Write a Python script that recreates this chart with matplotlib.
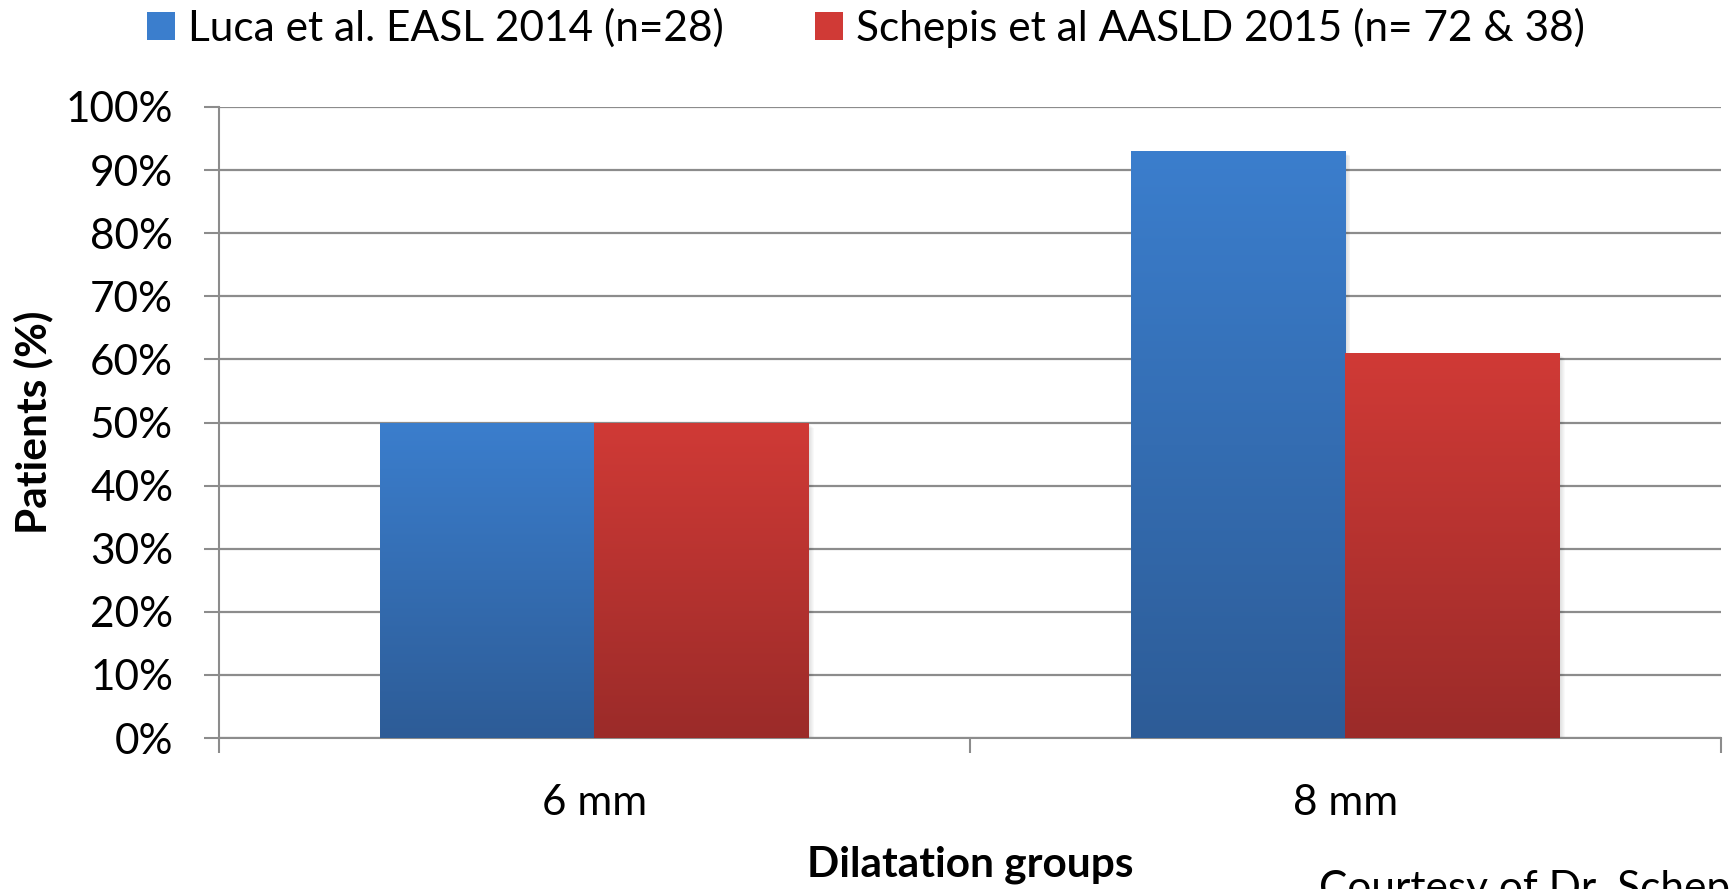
import numpy as np
import matplotlib
matplotlib.use("Agg")
import matplotlib.pyplot as plt
from matplotlib.colors import LinearSegmentedColormap
from matplotlib.patches import Rectangle
import matplotlib.transforms as mtransforms

plt.rcParams['font.family'] = ['Lato', 'DejaVu Sans']

# Data
groups = ["6 mm", "8 mm"]
series_names = ["Luca et al. EASL 2014 (n=28)", "Schepis et al AASLD 2015 (n= 72 & 38)"]
luca = [50, 93]
schepis = [50, 61]
yticks = [0, 10, 20, 30, 40, 50, 60, 70, 80, 90, 100]

# Colours (top, bottom) for the gradient fills
blue_grad = ("#3b7ecd", "#2d5c97")
red_grad = ("#d03a36", "#9b2b29")
grid_col = "#8c8c8c"
FS = 30.5

W, H = 1731, 889
fig = plt.figure(figsize=(W / 100, H / 100), dpi=100)
ax = fig.add_axes([219 / W, 1 - 738 / H, (1721 - 219) / W, (738 - 107) / H])

x = np.arange(len(groups))
bw = 0.285

def gradient_bars(xpos, vals, cols, label):
    cmap = LinearSegmentedColormap.from_list("g", [cols[1], cols[0]])
    bars = ax.bar(xpos, vals, width=bw, color=cols[0], label=label, zorder=3,
                  linewidth=0)
    grad = np.linspace(0, 1, 256).reshape(-1, 1)
    for b in bars:
        x0, y0 = b.get_x(), b.get_y()
        w, h = b.get_width(), b.get_height()
        # soft drop shadow
        for k in range(1, 7):
            off = mtransforms.ScaledTranslation(k * 0.6 / 72, -k * 0.6 / 72, fig.dpi_scale_trans)
            sh = Rectangle((x0, y0), w, h, facecolor="black", alpha=0.025, linewidth=0,
                           transform=ax.transData + off, zorder=2.5)
            ax.add_patch(sh)
        im = ax.imshow(grad, extent=[x0, x0 + w, y0, y0 + h], origin="lower",
                       cmap=cmap, aspect="auto", zorder=3.2, interpolation="bilinear")
        im.set_clip_path(b)
    return bars

gradient_bars(x - bw / 2, luca, blue_grad, series_names[0])
gradient_bars(x + bw / 2, schepis, red_grad, series_names[1])

ax.set_xlim(-0.5, 1.5)
ax.set_ylim(0, 100)
ax.set_aspect("auto")

# Axes styling
for s in ["top", "right"]:
    ax.spines[s].set_visible(False)
for s in ["left", "bottom"]:
    ax.spines[s].set_color(grid_col)
    ax.spines[s].set_linewidth(1.5)
ax.yaxis.grid(True, color=grid_col, linewidth=1.6, zorder=1)
ax.set_axisbelow(True)

ax.set_yticks(yticks)
ax.set_yticklabels([f"{v}%" for v in yticks])
ax.tick_params(axis="y", length=11, width=1.5, color=grid_col, pad=22,
               labelsize=FS, labelcolor="black")

ax.set_xticks([-0.5, 0.5, 1.5])
ax.set_xticklabels([])
ax.set_xticks(x, minor=True)
ax.set_xticklabels(groups, minor=True)
ax.tick_params(axis="x", which="major", length=11, width=1.5, color=grid_col, direction="out")
ax.tick_params(axis="x", which="minor", length=0, pad=33, labelsize=FS)

ax.set_ylabel("Patients (%)", fontsize=FS, fontweight="bold")
ax.yaxis.set_label_coords(-(219 - 33) / (1721 - 219), 0.5)
ax.yaxis.label.set_va("center")
ax.set_xlabel("Dilatation groups", fontsize=FS, fontweight="bold")
ax.xaxis.set_label_coords(0.5, -(865 - 738) / (738 - 107))
ax.xaxis.label.set_va("center")

# Legend
handles = [Rectangle((0, 0), 1, 1, facecolor=blue_grad[0], linewidth=0),
           Rectangle((0, 0), 1, 1, facecolor=red_grad[0], linewidth=0)]
fig.legend(handles, series_names, loc="center", bbox_to_anchor=(866 / W, 1 - 28 / H),
           ncol=2, frameon=False, fontsize=FS, handlelength=0.66, handleheight=0.66,
           handletextpad=0.31, columnspacing=2.17, borderaxespad=0, borderpad=0)

fig.text(1319 / W, 1 - 870 / H, "Courtesy of Dr. Schepis", fontsize=FS, va="top", ha="left")

fig.savefig("out.png", dpi=100, facecolor="white")
